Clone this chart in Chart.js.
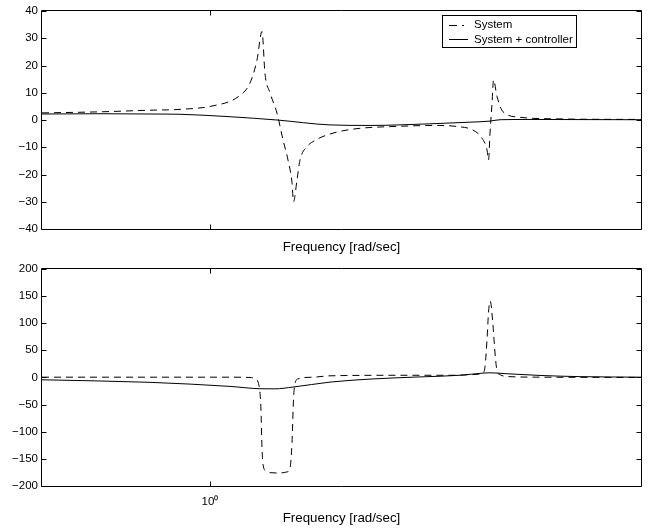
<!DOCTYPE html>
<html><head><meta charset="utf-8">
<script src="https://cdn.jsdelivr.net/npm/chart.js@4/dist/chart.umd.min.js"></script>
<style>
html,body{margin:0;padding:0;background:#fff;}
#wrap{position:relative;width:651px;height:528px;background:#fff;}
.box{position:absolute;left:0;width:651px;}
</style></head><body>
<div id="wrap">
<div class="box" style="top:0;height:258px;"><canvas id="c1"></canvas></div>
<div class="box" style="top:258px;height:270px;"><canvas id="c2"></canvas></div>
</div>
<script>
// ---------- data ----------
const xAxisLabel = 'Frequency [rad/sec]';
const seriesNames = ['System', 'System + controller'];
const xTickValues = [1];
const xTickLabels = ['10\u2070'];
const xMin = 0.5, xMax = 5.92;
const topYTicks = [-40, -30, -20, -10, 0, 10, 20, 30, 40];
const bottomYTicks = [-200, -150, -100, -50, 0, 50, 100, 150, 200];

// top panel, System (dashed)
const topSystemFreq = [0.5, 0.6352, 0.7807, 0.8837, 1.0125, 1.1225, 1.1795, 1.2140, 1.2393, 1.2548, 1.2809, 1.3185, 1.3515, 1.3797, 1.4027, 1.4114, 1.4319, 1.4497, 1.4922, 1.5423, 1.6206, 1.7820, 2.1903, 2.5834, 2.7711, 2.9602, 3.0723, 3.1363, 3.1558, 3.1754, 3.2017, 3.2215, 3.2684, 3.3504, 3.5938, 4.2388, 5.92];
const topSystemVal  = [2.6, 3.0, 3.6, 3.9, 5.2, 8.5, 13.6, 22, 32.5, 17, 10, 2.5, -7.3, -14.7, -23, -30, -22, -14.7, -9.8, -7.5, -5.5, -3.5, -2.3, -2.0, -2.4, -3.7, -6.7, -11, -14.7, -4.8, 6.2, 14.7, 8.6, 3, 1, 0.4, 0.2];
// top panel, System + controller (solid)
const topCtrlFreq = [0.5, 0.6352, 0.7807, 0.8837, 1.0860, 1.3185, 1.6408, 1.9353, 2.4789, 2.9238, 3.1754, 3.3091, 3.7452, 5.92];
const topCtrlVal  = [2.2, 2.3, 2.2, 2.1, 1.2, 0, -1.8, -2.0, -1.4, -0.8, -0.4, 0.1, 0.2, 0.1];

// bottom panel, System (dashed)
const botSystemFreq = [0.5, 0.7807, 1.0860, 1.1795, 1.2041, 1.2241, 1.2342, 1.2393, 1.2470, 1.2600, 1.2809, 1.3349, 1.3740, 1.3911, 1.4027, 1.4114, 1.4172, 1.4378, 1.5296, 1.6408, 2.1903, 2.6922, 2.9238, 3.0220, 3.0850, 3.1105, 3.1363, 3.1558, 3.1754, 3.1885, 3.2149, 3.2416, 3.2684, 3.3091, 3.4486, 3.9030, 5.92];
const botSystemVal  = [0.5, 0.5, 0.5, 0, -2.5, -15, -60, -130, -165, -172, -175.5, -176, -174, -167, -120, -40, -17, -2.5, 0.5, 3, 4, 4, 5, 6, 8, 20, 70, 120, 141, 135, 95, 45, 12, 5, 1.5, 0.5, 0];
// bottom panel, System + controller (solid)
const botCtrlFreq = [0.5, 0.7807, 1.0860, 1.2292, 1.3076, 1.4085, 1.6408, 1.9353, 2.3787, 2.8056, 3.0850, 3.1754, 3.3781, 3.9030, 4.6034, 5.92];
const botCtrlVal  = [-4.3, -9, -16.5, -20.8, -21, -17.7, -8.6, -3, 1, 4, 8, 8.6, 7, 3.7, 1.5, 0.5];

// ---------- helpers ----------
const FONT = '"Liberation Sans", Arial, Helvetica, sans-serif';
const pts = (xs, ys) => xs.map((x, i) => ({x: x, y: ys[i]}));
const fmt = v => (v < 0 ? '\u2212' + Math.abs(v) : String(v));

const framePlugin = {
  id: 'frame',
  afterDraw(chart) {
    const {ctx, chartArea: a} = chart;
    const L = Math.round(a.left) - 0.5, R = Math.round(a.right) + 0.5;
    const T = Math.round(a.top) - 0.5, B = Math.round(a.bottom) + 0.5;
    ctx.save();
    ctx.strokeStyle = '#000';
    ctx.lineWidth = 1;
    ctx.beginPath();
    ctx.rect(L, T, R - L, B - T);
    const ys = chart.scales.y;
    ys.ticks.forEach(t => {
      const p = Math.round(ys.getPixelForValue(t.value)) + 0.5;
      ctx.moveTo(L, p); ctx.lineTo(L + 5, p);
      ctx.moveTo(R, p); ctx.lineTo(R - 5, p);
    });
    const xs = chart.scales.x;
    xs.ticks.forEach(t => {
      const p = Math.round(xs.getPixelForValue(t.value)) + 0.5;
      ctx.moveTo(p, B); ctx.lineTo(p, B - 5);
      ctx.moveTo(p, T); ctx.lineTo(p, T + 5);
    });
    ctx.stroke();
    ctx.restore();
  }
};

const legendBoxPlugin = {
  id: 'legendBox',
  afterDraw(chart, args, opts) {
    if (!opts || !opts.show) return;
    const ctx = chart.ctx;
    const x0 = 442.5, y0 = 15.5, w = 134, h = 32;
    ctx.save();
    ctx.fillStyle = '#fff';
    ctx.fillRect(x0, y0, w, h);
    ctx.strokeStyle = '#000';
    ctx.lineWidth = 1;
    ctx.strokeRect(x0, y0, w, h);
    ctx.font = '11.5px ' + FONT;
    ctx.textBaseline = 'middle';
    ctx.fillStyle = '#000';
    const rows = [24.5, 39];
    chart.data.datasets.forEach((ds, i) => {
      const y = Math.round(rows[i]) + 0.5;
      const dashed = ds.borderDash && ds.borderDash.length;
      ctx.beginPath();
      ctx.setLineDash(dashed ? [8, 5] : []);
      ctx.moveTo(449, y);
      ctx.lineTo(dashed ? 464 : 468, y);
      ctx.stroke();
      ctx.setLineDash([]);
      ctx.fillText(ds.label, 474, rows[i] + 0.5);
    });
    ctx.restore();
  }
};

function makeChart(id, sysPts, ctrlPts, yTicks, showXLabel, pad, xHeight, titlePadBottom, withLegend) {
  return new Chart(document.getElementById(id), {
    type: 'line',
    data: {
      datasets: [
        {label: seriesNames[0], data: sysPts, borderColor: '#000', borderWidth: 1, borderDash: [7, 5], pointRadius: 0, cubicInterpolationMode: 'monotone', fill: false},
        {label: seriesNames[1], data: ctrlPts, borderColor: '#000', borderWidth: 1, pointRadius: 0, cubicInterpolationMode: 'monotone', fill: false}
      ]
    },
    options: {
      responsive: true,
      maintainAspectRatio: false,
      animation: false,
      devicePixelRatio: 1,
      events: [],
      layout: {padding: pad},
      plugins: {
        legend: {display: false},
        tooltip: {enabled: false},
        legendBox: {show: withLegend}
      },
      scales: {
        x: {
          type: 'logarithmic',
          position: 'bottom',
          min: xMin, max: xMax,
          afterBuildTicks: s => { s.ticks = xTickValues.map(v => ({value: v})); },
          afterFit: s => { s.height = xHeight; },
          grid: {display: false, drawTicks: false},
          border: {display: false},
          ticks: {
            autoSkip: false, maxRotation: 0, padding: 9,
            color: '#000', font: {family: FONT, size: 11.5},
            callback: (v) => showXLabel ? (xTickLabels[xTickValues.indexOf(v)] || '') : ''
          },
          title: {display: true, text: xAxisLabel, color: '#000', font: {family: FONT, size: 13.3}, padding: {top: 0, bottom: titlePadBottom}}
        },
        y: {
          min: yTicks[0], max: yTicks[yTicks.length - 1],
          afterBuildTicks: s => { s.ticks = yTicks.map(v => ({value: v})); },
          afterFit: s => { s.width = 42; },
          grid: {display: false, drawTicks: false},
          border: {display: false},
          ticks: {autoSkip: false, padding: 4, color: '#000', font: {family: FONT, size: 11.5}, callback: v => fmt(v)}
        }
      }
    },
    plugins: [framePlugin, legendBoxPlugin]
  });
}

makeChart('c1', pts(topSystemFreq, topSystemVal), pts(topCtrlFreq, topCtrlVal), topYTicks, false,
  {top: 11, right: 10, left: 0, bottom: 0}, 29, 3, true);
makeChart('c2', pts(botSystemFreq, botSystemVal), pts(botCtrlFreq, botCtrlVal), bottomYTicks, true,
  {top: 10, right: 10, left: 0, bottom: 0}, 42, 2, false);
</script>
</body></html>
